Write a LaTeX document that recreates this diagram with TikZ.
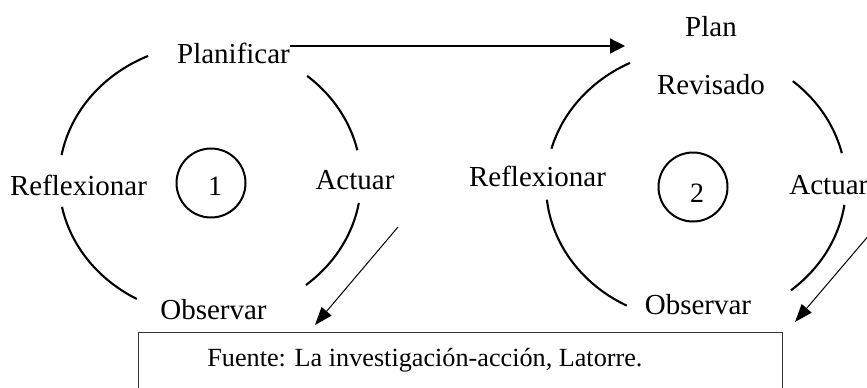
\documentclass[tikz,border=0pt]{standalone}
\usepackage{fontspec}
\setmainfont{Liberation Serif}
\usetikzlibrary{arrows.meta}
\begin{document}
\begin{tikzpicture}[x=0.5pt,y=-0.5pt,
  lbl/.style={inner sep=0pt, anchor=base, font=\fontsize{14.5}{17}\selectfont},
  num/.style={inner sep=0pt, anchor=base, font=\fontsize{14}{16}\selectfont},
  ring/.style={circle, draw, line width=1pt, minimum size=34.5pt, inner sep=0pt},
  cyc/.style={line width=1.05pt},
  thinarrow/.style={line width=0.5pt, -{Triangle[length=9pt,width=6.5pt]}},
  mainarrow/.style={line width=0.65pt, -{Triangle[length=7.5pt,width=7.5pt]}},
  srcbox/.style={draw=black!80, line width=0.7pt, anchor=north west, minimum width=322pt, minimum height=40pt, inner sep=0pt}]
\path[use as bounding box, clip] (0,0) rectangle (867,387);

% ---------- cycle 1 ----------
\draw[cyc] plot[domain=-114.2:-169.45, samples=40, smooth] ({210+151*cos(\x)}, {180+136*sin(\x)});
\draw[cyc] plot[domain=-49.97:-12.6, samples=40, smooth] ({210+151*cos(\x)}, {180+136*sin(\x)});
\draw[cyc] plot[domain=168.6:119.0, samples=40, smooth] ({210+151*cos(\x)}, {180+136*sin(\x)});
\draw[cyc] plot[domain=9.72:50.56, samples=40, smooth] ({210+151*cos(\x)}, {180+136*sin(\x)});

\node[lbl] (planif) at (233.5,63) {Planificar};
\node[lbl] (refl1) at (78.5,195) {Reflexionar};
\node[lbl] (act1) at (355,189) {Actuar};
\node[lbl] (obs1) at (213.5,319) {Observar};
\node[ring] (c1) at (211,183) {};
\node[num] (n1) at (215,195) {1};

% ---------- cycle 2 ----------
\draw[cyc] plot[domain=-116.1:-164.5, samples=40, smooth] ({696+150*cos(\x)}, {185+136*sin(\x)});
\draw[cyc] plot[domain=-49.8:-13.5, samples=40, smooth] ({696+150*cos(\x)}, {185+136*sin(\x)});
\draw[cyc] plot[domain=173.8:117.5, samples=40, smooth] ({696+150*cos(\x)}, {185+136*sin(\x)});
\draw[cyc] plot[domain=8.4:50.7, samples=40, smooth] ({696+150*cos(\x)}, {185+136*sin(\x)});

\node[lbl] (plan) at (711,36) {Plan};
\node[lbl] (revis) at (711,94) {Revisado};
\node[lbl] (refl2) at (537.5,186) {Reflexionar};
\node[lbl, anchor=base west] (act2) at (789,194) {Actuar};
\node[lbl] (obs2) at (698,314) {Observar};
\node[ring] (c2) at (693,187) {};
\node[num] (n2) at (697,202) {2};

% ---------- source box ----------
\node[srcbox] (box) at (138,332) {};
\node[inner sep=0pt, anchor=base west, font=\fontsize{13.1}{15}\selectfont] (fuente) at (207,366) {Fuente: La investigación-acción, Latorre.};

% ---------- arrows ----------
\coordinate (pend) at (625,46);
\draw[mainarrow] (planif.east |- pend) -- (pend);
\coordinate (a1s) at (398,227);
\coordinate (a1e) at (315,325);
\draw[thinarrow] (a1s) -- (a1e);
\coordinate (a2s) at (870,234);
\coordinate (a2e) at (795,322);
\draw[thinarrow] (a2s) -- (a2e);
\end{tikzpicture}
\end{document}
